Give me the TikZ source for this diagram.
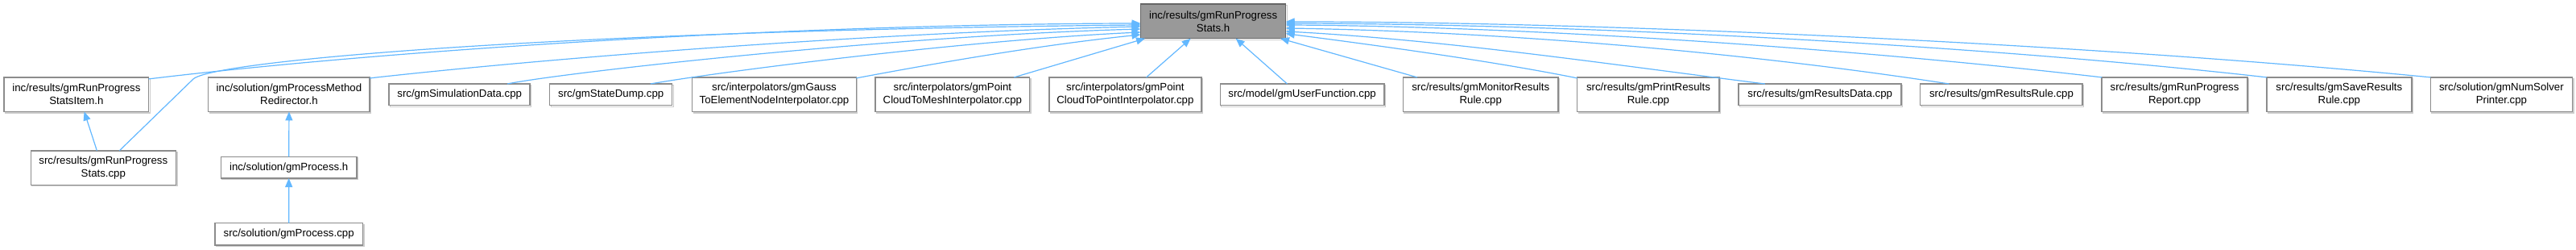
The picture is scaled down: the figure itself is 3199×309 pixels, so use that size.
\documentclass[tikz,border=0pt]{standalone}
\usepackage{fontspec}
\setmainfont{Liberation Sans}
\usetikzlibrary{arrows.meta,calc,shadows}
\definecolor{edgeblue}{HTML}{63B8FF}
\definecolor{boxgray}{HTML}{8C8C8C}
\definecolor{mainfill}{HTML}{999999}
\definecolor{maingray}{HTML}{666666}
\definecolor{shadowgray}{HTML}{CCCCCC}
\begin{document}
\begin{tikzpicture}[x=1pt,y=-1pt,
  every node/.style={font=\fontsize{13.25}{16}\selectfont, align=center, inner sep=0pt, outer sep=0pt},
  boxshadow/.style={general shadow={draw=shadowgray, line width=1.3pt, fill=none, shadow xshift=1.5pt, shadow yshift=-1.5pt}},
  filebox/.style={boxshadow, draw=boxgray, line width=1.5pt, fill=white, minimum height=42.5pt},
  filebox1/.style={boxshadow, draw=boxgray, line width=1.5pt, fill=white, minimum height=26.7pt},
  mainbox/.style={boxshadow, draw=maingray, line width=1.5pt, fill=mainfill, minimum height=42.7pt},
  dep/.style={draw=edgeblue, line width=1.2pt, -{Triangle[length=11pt,width=9pt]}}
]
\useasboundingbox (0,0) rectangle (3199,309);
\fill[white] (0,0) rectangle (3199,309);

% nodes
\node[mainbox, minimum width=180.2pt] (M) at (1506.6,26.35) {inc/results/gmRunProgress\\Stats.h};
\node[filebox, minimum width=179.6pt] (A) at (94.9,117.15) {inc/results/gmRunProgress\\StatsItem.h};
\node[filebox, minimum width=180.1pt] (B) at (128.35,208) {src/results/gmRunProgress\\Stats.cpp};
\node[filebox, minimum width=200.5pt] (C) at (358.95,117.15) {inc/solution/gmProcessMethod\\Redirector.h};
\node[filebox1, minimum width=168.4pt] (D) at (358.7,207.65) {inc/solution/gmProcess.h};
\node[filebox1, minimum width=183.7pt, minimum height=27.3pt] (E) at (358.65,290.35) {src/solution/gmProcess.cpp};
\node[filebox1, minimum width=175pt] (F) at (570.7,117.35) {src/gmSimulationData.cpp};
\node[filebox1, minimum width=152pt] (G) at (758.7,117.35) {src/gmStateDump.cpp};
\node[filebox, minimum width=203.6pt] (H) at (961.5,117.15) {src/interpolators/gmGauss\\ToElementNodeInterpolator.cpp};
\node[filebox, minimum width=191.4pt] (I) at (1182.9,117.15) {src/interpolators/gmPoint\\CloudToMeshInterpolator.cpp};
\node[filebox, minimum width=188.8pt] (J) at (1397.4,117.15) {src/interpolators/gmPoint\\CloudToPointInterpolator.cpp};
\node[filebox1, minimum width=203.6pt] (K) at (1617.1,117.35) {src/model/gmUserFunction.cpp};
\node[filebox, minimum width=192.9pt] (L) at (1838.75,117.15) {src/results/gmMonitorResults\\Rule.cpp};
\node[filebox, minimum width=176.5pt] (N) at (2046.95,117.15) {src/results/gmPrintResults\\Rule.cpp};
\node[filebox1, minimum width=202pt] (O) at (2260.2,117.35) {src/results/gmResultsData.cpp};
\node[filebox1, minimum width=201.5pt] (P) at (2485.45,117.35) {src/results/gmResultsRule.cpp};
\node[filebox, minimum width=180.6pt] (Q) at (2700.5,117.15) {src/results/gmRunProgress\\Report.cpp};
\node[filebox, minimum width=180.1pt] (R) at (2904.85,117.15) {src/results/gmSaveResults\\Rule.cpp};
\node[filebox, minimum width=176pt] (S) at (3106.4,117.15) {src/solution/gmNumSolver\\Printer.cpp};

% local edges
\draw[dep] ($(B.north)+(-8,0)$) -- ($(A.south)+(9.7,0)$);
\draw[dep] (D.north) -- (C.south);
\draw[dep] (E.north) -- (D.south);

% edges to the left side of M
\draw[dep] ($(A.north east)+(0,2)$) .. controls (500,60) and (1000,30) .. ($(M.west)+(0,2.6)$);
\draw[dep] ($(B.north)+(20,0)$) -- (240,98) .. controls (265,75) and (700,38) .. ($(M.west)+(0,4.6)$);
\draw[dep] ($(C.north east)+(0,1)$) .. controls (700,70) and (1100,40) .. ($(M.west)+(0,6.6)$);
\draw[dep] ($(F.north)+(59.3,0)$) .. controls (700,90) and (1100,45) .. ($(M.west)+(0,9.6)$);
\draw[dep] ($(G.north)+(49,0)$) .. controls (900,88) and (1200,50) .. ($(M.west)+(0,13.6)$);
\draw[dep] ($(H.north east)+(0,1)$) .. controls (1180,75) and (1300,55) .. ($(M.west)+(0,16.6)$);

% edges to the bottom of M
\draw[dep] ($(I.north)+(76.3,0)$) -- ($(M.south west)+(5.5,0)$);
\draw[dep] ($(J.north)+(26.2,0)$) -- ($(M.south)+(-28,0)$);
\draw[dep] ($(K.north)+(-18.6,0)$) -- ($(M.south)+(28,0)$);
\draw[dep] ($(L.north)+(-78.75,0)$) -- ($(M.south east)+(-6.7,0)$);

% edges to the right side of M
\draw[dep] ($(N.north west)+(0,1)$) .. controls (1850,75) and (1700,55) .. ($(M.east)+(0,15.3)$);
\draw[dep] ($(O.north)+(-68.4,0)$) .. controls (2000,80) and (1800,50) .. ($(M.east)+(0,12.6)$);
\draw[dep] ($(P.north)+(-65,0)$) .. controls (2200,70) and (1900,40) .. ($(M.east)+(0,8.6)$);
\draw[dep] (Q.north west) .. controls (2300,60) and (1900,33) .. ($(M.east)+(0,4.6)$);
\draw[dep] (R.north west) .. controls (2500,60) and (2000,30) .. ($(M.east)+(0,2.6)$);
\draw[dep] (S.north west) .. controls (2600,55) and (2000,27) .. ($(M.east)+(0,0.6)$);
\end{tikzpicture}
\end{document}
